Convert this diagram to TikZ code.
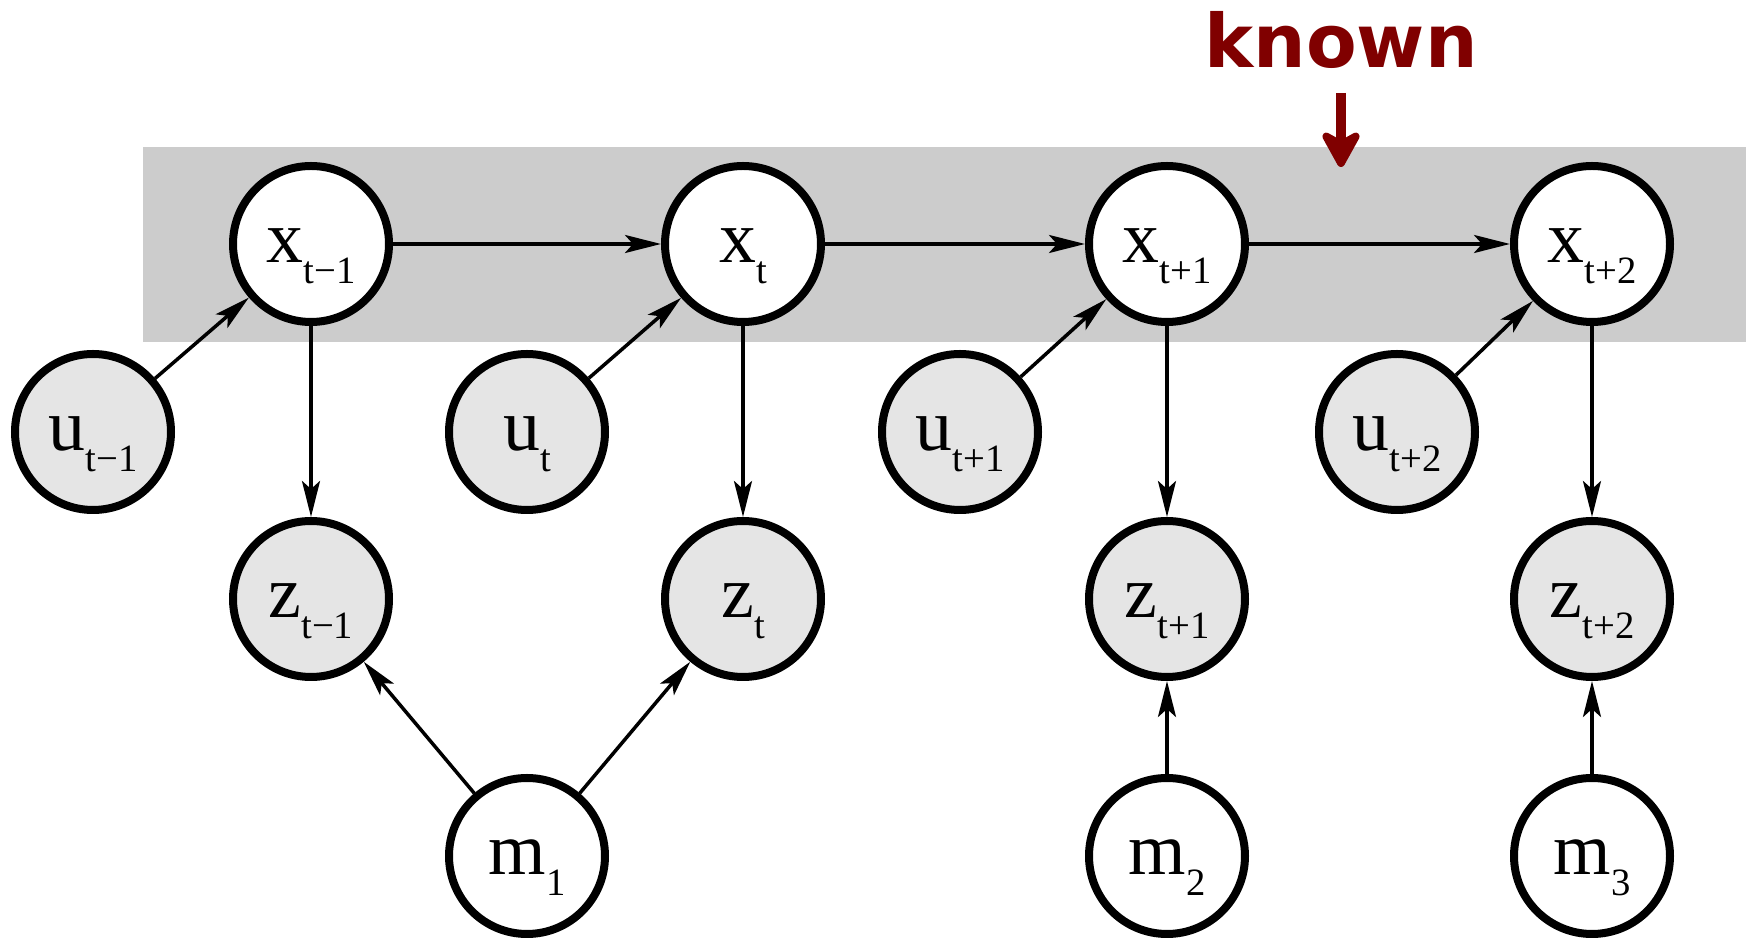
\documentclass[tikz,border=0pt]{standalone}
\usepackage{fontspec}
\setmainfont{Liberation Serif}
\newfontfamily\knownfont{DejaVu Sans}
\usepackage{xcolor}
\usetikzlibrary{positioning}
\usetikzlibrary{arrows.meta}
\usetikzlibrary{calc}
\definecolor{knownred}{HTML}{800000}
\tikzstyle{vertex}=[circle,fill=white,draw,line width=0.08cm,minimum size=1.56cm,inner sep=0pt,text height=0.38cm,text depth=0pt]
\tikzstyle{obsvertex}=[vertex,fill=black!10]
\tikzstyle{edge} = [draw,line width=0.035cm,-{Stealth[length=0.36cm,width=0.18cm,inset=0.08cm]}]
\tikzstyle{knownarrow} = [draw=knownred,line width=0.1cm,-{Stealth[length=0.44cm,width=0.48cm,inset=0.13cm,round]}]
\tikzset{knownlabel/.style={font=\knownfont\bfseries\fontsize{21}{21}\selectfont,text=knownred,inner sep=0pt}}
\newcommand{\nodelab}[2]{{\fontsize{21}{21}\selectfont #1}\raisebox{-0.21cm}[0pt][0pt]{\fontsize{11}{11}\selectfont #2}}

\begin{document}
\begin{tikzpicture}

  \useasboundingbox (0,0) rectangle (17.54,-9.39);

  % known states
  \fill[black!20] (1.43,-1.47) rectangle (17.46,-3.42);

   \foreach \x/\name/\idx in {3.11/x1/t−1, 7.43/x2/t, 11.67/x3/t+1, 15.92/x4/t+2}
          \node[vertex] (\name) at (\x,-2.44) {\nodelab{x}{\idx}};

   \foreach \x/\name/\idx in {0.93/u1/t−1, 5.27/u2/t, 9.60/u3/t+1, 13.97/u4/t+2}
          \node[obsvertex] (\name) at (\x,-4.32) {\nodelab{u}{\idx}};

   \foreach \x/\name/\idx in {3.11/z1/t−1, 7.43/z2/t, 11.67/z3/t+1, 15.92/z4/t+2}
          \node[obsvertex] (\name) at (\x,-5.99) {\nodelab{z}{\idx}};

   \foreach \x/\name/\idx in {5.27/m1/1, 11.67/m2/2, 15.92/m3/3}
          \node[vertex] (\name) at (\x,-8.56) {\nodelab{m}{\idx}};


  \foreach \source/ \dest in {x1/x2, x2/x3, x3/x4, u1/x1, u2/x2, u3/x3, u4/x4}
         \path[edge] (\source) -- (\dest);

  \foreach \source/ \dest in {x1/z1, x2/z2, x3/z3, x4/z4, m1/z1, m1/z2, m2/z3, m3/z4}
         \path[edge] (\source) -- (\dest);


  \node[knownlabel, anchor=base] (known) at (13.41,-0.68) {known};
  \coordinate (knowntip) at (13.41,-1.67);
  \path[knownarrow] ([yshift=-0.25cm]known.base) -- (knowntip);

\end{tikzpicture}
\end{document}
